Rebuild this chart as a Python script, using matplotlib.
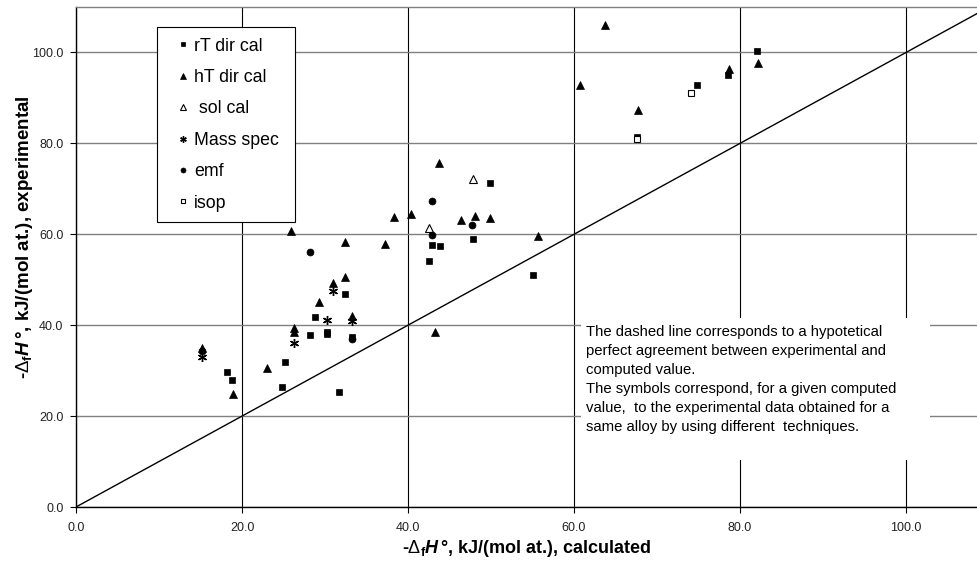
import matplotlib
matplotlib.use("Agg")
import matplotlib.pyplot as plt
from matplotlib.patches import Rectangle

plt.rcParams['font.family'] = ['Liberation Sans', 'DejaVu Sans']
plt.rcParams['mathtext.fontset'] = 'custom'
plt.rcParams['mathtext.rm'] = 'Liberation Sans'
plt.rcParams['mathtext.it'] = 'Liberation Sans:italic:bold'
plt.rcParams['mathtext.bf'] = 'Liberation Sans:bold'

# ---- data (calculated, experimental) ----
rT_x = [82.0, 78.6, 74.8, 67.6, 49.9, 47.8, 42.9, 43.9, 42.5, 55.1, 32.4, 28.8,
        28.2, 30.2, 30.2, 33.2, 25.2, 18.2, 18.8, 24.8, 31.7]
rT_y = [100.4, 95.0, 92.9, 81.5, 71.2, 58.9, 57.6, 57.4, 54.1, 51.1, 46.8, 41.9,
        37.8, 38.5, 38.0, 37.5, 32.0, 29.8, 28.0, 26.3, 25.2]

hT_x = [63.7, 82.2, 78.7, 60.7, 67.7, 43.7, 38.3, 40.4, 46.4, 48.1, 49.9, 55.7,
        25.9, 32.4, 37.2, 32.4, 31.0, 29.3, 33.3, 26.3, 26.3, 23.0, 18.9, 15.2, 43.2]
hT_y = [106.0, 97.6, 96.4, 92.8, 87.3, 75.6, 63.9, 64.4, 63.1, 64.0, 63.5, 59.6,
        60.7, 58.2, 57.8, 50.5, 49.2, 45.1, 42.0, 39.4, 38.6, 30.5, 24.8, 35.0, 38.5]

sol_x = [47.8, 42.5]
sol_y = [72.2, 61.3]

ms_x = [31.0, 30.3, 33.3, 26.3, 15.2]
ms_y = [47.5, 41.1, 40.9, 36.1, 33.0]

emf_x = [42.9, 28.2, 47.7, 42.9, 33.2, 15.2]
emf_y = [67.4, 56.0, 62.0, 59.9, 37.0, 34.3]

isop_x = [74.1, 67.6]
isop_y = [91.1, 80.9]

labels = ["rT dir cal", "hT dir cal", " sol cal", "Mass spec", "emf", "isop"]
xticks = [0, 20, 40, 60, 80, 100]
yticks = [0, 20, 40, 60, 80, 100]

note = ("The dashed line corresponds to a hypotetical\n"
        "perfect agreement between experimental and\n"
        "computed value.\n"
        "The symbols correspond, for a given computed\n"
        "value,  to the experimental data obtained for a\n"
        "same alloy by using different  techniques.")

W, H = 977, 562
fig = plt.figure(figsize=(W / 100, H / 100), dpi=100)
ax = fig.add_axes([76 / W, 1 - 507 / H, 1 - 76 / W, 500 / H])
ax.set_xlim(0, 108.55)
ax.set_ylim(0, 110)

ax.set_axisbelow(True)
ax.xaxis.grid(True, color='black', lw=0.8)
ax.yaxis.grid(True, color='#808080', lw=1.0)

ax.plot([0, 120], [0, 120], color='black', lw=1.0, zorder=2)

kw = dict(linestyle='none', zorder=3)
ax.plot(rT_x, rT_y, marker='s', ms=5, color='black', mec='black', mew=0.5, label=labels[0], **kw)
ax.plot(hT_x, hT_y, marker='^', ms=6, color='black', mec='black', mew=0.5, label=labels[1], **kw)
ax.plot(sol_x, sol_y, marker='^', ms=6, mfc='white', mec='black', mew=0.8, label=labels[2], **kw)
ax.plot(ms_x, ms_y, marker=(6, 2, 0), ms=6.5, color='black', mew=1.0, label=labels[3], **kw)
ax.plot(emf_x, emf_y, marker='o', ms=5, color='black', mec='black', mew=0.5, label=labels[4], **kw)
ax.plot(isop_x, isop_y, marker='s', ms=4.5, mfc='white', mec='black', mew=0.8, label=labels[5], **kw)

ax.set_xticks(xticks)
ax.set_yticks(yticks)
ax.set_xticklabels([f"{v:.1f}" for v in xticks])
ax.set_yticklabels([f"{v:.1f}" for v in yticks])
ax.tick_params(axis='both', labelsize=9, labelcolor='#222222', length=4, width=0.8,
               direction='out', pad=5)
ax.tick_params(axis='x', pad=7)

for s in ['left', 'bottom']:
    ax.spines[s].set_color('black')
    ax.spines[s].set_linewidth(1.0)
ax.spines['top'].set_color('#808080')
ax.spines['top'].set_linewidth(1.0)
ax.spines['right'].set_visible(False)

ax.set_xlabel(r"-$\Delta_{\mathbf{f}}\mathit{H}\,$°, kJ/(mol at.), calculated",
              fontsize=13, fontweight='bold', labelpad=3)
ax.set_ylabel(r"-$\Delta_{\mathbf{f}}\mathit{H}\,$°, kJ/(mol at.), experimental",
              fontsize=13.5, fontweight='bold')
ax.yaxis.set_label_coords(-0.045, 0.54)

# note box
rect = Rectangle((581 / W, 1 - 460 / H), (930 - 581) / W, (460 - 318) / H,
                 transform=fig.transFigure, facecolor='white', edgecolor='none', zorder=2.5)
ax.add_patch(rect)
ax.text(586 / W, 1 - 325 / H, note, transform=fig.transFigure, ha='left', va='top',
        fontsize=10.7, linespacing=1.46, color='black', zorder=4)

leg = ax.legend(loc='upper left',
                bbox_to_anchor=(157 / W, 1 - 221 / H, (295 - 157) / W, (221 - 27) / H),
                bbox_transform=fig.transFigure, mode='expand', borderaxespad=0,
                fontsize=12.8, frameon=True, fancybox=False, framealpha=1,
                edgecolor='black', markerscale=0.72, handlelength=1.7,
                handletextpad=-0.2, borderpad=0.6, labelspacing=0.81, numpoints=1)
leg.get_frame().set_linewidth(0.8)

fig.savefig("out.png", dpi=100)
